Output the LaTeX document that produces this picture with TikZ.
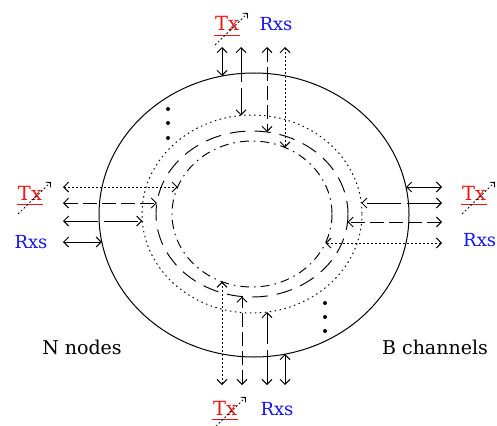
\documentclass[tikz,border=0pt]{standalone}
\usepackage{fontspec}
\setmainfont{DejaVu Serif}
\usetikzlibrary{arrows.meta}
\definecolor{txred}{RGB}{240,20,20}
\definecolor{rxblue}{RGB}{20,20,240}
\begin{document}
\begin{tikzpicture}[x=1pt,y=-1pt,
  barb/.tip={Straight Barb[length=5pt,width=10pt]},
  lw/.style={line width=0.95pt},
  solidlink/.style={lw,barb-barb},
  longlink/.style={lw,barb-barb,dash pattern=on 34pt off 6pt},
  dashlink/.style={lw,barb-barb,dash pattern=on 14pt off 5pt},
  dotlink/.style={lw,barb-barb,dash pattern=on 1.5pt off 2.5pt},
  txlabel/.style={text=txred,inner sep=0pt,anchor=base,font=\fontsize{19.5}{22}\selectfont},
  rxlabel/.style={text=rxblue,inner sep=0pt,anchor=base,font=\fontsize{18}{20}\selectfont},
  caption/.style={inner sep=0pt,anchor=base,font=\fontsize{19}{22}\selectfont},
  pointer/.style={line width=0.8pt,dash pattern=on 2pt off 2pt,-{Straight Barb[length=3.5pt,width=7pt]}},
  uline/.style={txred,line width=0.9pt}
]
\useasboundingbox (0,0) rectangle (497,425);

% outer ring and the three inner channel rings
\draw[line width=1pt] (254,215) ellipse [x radius=155, y radius=142];
\draw[lw,dash pattern=on 1.5pt off 3.5pt] (252,214) ellipse [x radius=110, y radius=99];
\draw[lw,dash pattern=on 16pt off 9pt] (252,214) ellipse [x radius=96, y radius=83];
\draw[lw,dash pattern=on 9pt off 5pt on 1.5pt off 5pt] (252,214) ellipse [x radius=80, y radius=73];

% ellipsis dots
\foreach \yy in {109,123,138} \fill (168,\yy) circle [radius=2];
\foreach \yy in {303,317,331} \fill (325,\yy) circle [radius=2];

% top port
\coordinate (tA1) at (222,76);    \coordinate (tA2) at (222,47);
\coordinate (tB1) at (241,115.5); \coordinate (tB2) at (241,47);
\coordinate (tC1) at (267,132);   \coordinate (tC2) at (267,47);
\coordinate (tD1) at (285,147.5); \coordinate (tD2) at (285,47);
\draw[solidlink] (tA1) -- (tA2);
\draw[longlink] (tB2) -- (tB1);
\draw[dashlink] (tC2) -- (tC1);
\draw[dotlink] (tD2) -- (tD1);

% bottom port
\coordinate (bA1) at (222,281.7); \coordinate (bA2) at (222,385);
\coordinate (bB1) at (242,296.6); \coordinate (bB2) at (242,385);
\coordinate (bC1) at (267,312);   \coordinate (bC2) at (267,385);
\coordinate (bD1) at (285,354);   \coordinate (bD2) at (285,385);
\draw[dotlink] (bA2) -- (bA1);
\draw[dashlink] (bB2) -- (bB1);
\draw[longlink] (bC2) -- (bC1);
\draw[solidlink] (bD1) -- (bD2);

% left port
\coordinate (lA1) at (177.7,187); \coordinate (lA2) at (63,187);
\coordinate (lB1) at (156.9,203); \coordinate (lB2) at (63,203);
\coordinate (lC1) at (142.3,221); \coordinate (lC2) at (63,221);
\coordinate (lD1) at (101.8,242); \coordinate (lD2) at (63,242);
\draw[dotlink] (lA2) -- (lA1);
\draw[dashlink] (lB2) -- (lB1);
\draw[longlink] (lC2) -- (lC1);
\draw[solidlink] (lD1) -- (lD2);

% right port
\coordinate (rA1) at (406,187);   \coordinate (rA2) at (442,187);
\coordinate (rB1) at (361.3,203); \coordinate (rB2) at (442,203);
\coordinate (rC1) at (347.5,222); \coordinate (rC2) at (442,222);
\coordinate (rD1) at (325.4,243); \coordinate (rD2) at (442,243);
\draw[solidlink] (rA1) -- (rA2);
\draw[longlink] (rB2) -- (rB1);
\draw[dashlink] (rC2) -- (rC1);
\draw[dotlink] (rD2) -- (rD1);

% transmitter / receiver labels
\node[txlabel] (txT) at (227,31) {Tx};
\node[rxlabel] (rxT) at (276,31) {Rxs};
\node[txlabel] (txL) at (30,200) {Tx};
\node[rxlabel] (rxL) at (31,248) {Rxs};
\node[txlabel] (txR) at (474,200) {Tx};
\node[rxlabel,anchor=base west] (rxR) at (463,246) {Rxs};
\node[txlabel] (txB) at (225,415) {Tx};
\node[rxlabel] (rxB) at (277,415) {Rxs};

\foreach \t in {txT,txL,txR,txB}{
  \draw[uline] ([shift={(-1,4)}]\t.base west) -- ([shift={(1,4)}]\t.base east);
  \coordinate (\t-tail) at ([shift={(-12,14)}]\t.base);
  \coordinate (\t-head) at ([shift={(21,-18)}]\t.base);
  \draw[pointer] (\t-tail) -- (\t-head);
}

% captions
\node[caption] (nn) at (82,354) {N nodes};
\node[caption] (bc) at (435,354) {B channels};
\end{tikzpicture}
\end{document}
